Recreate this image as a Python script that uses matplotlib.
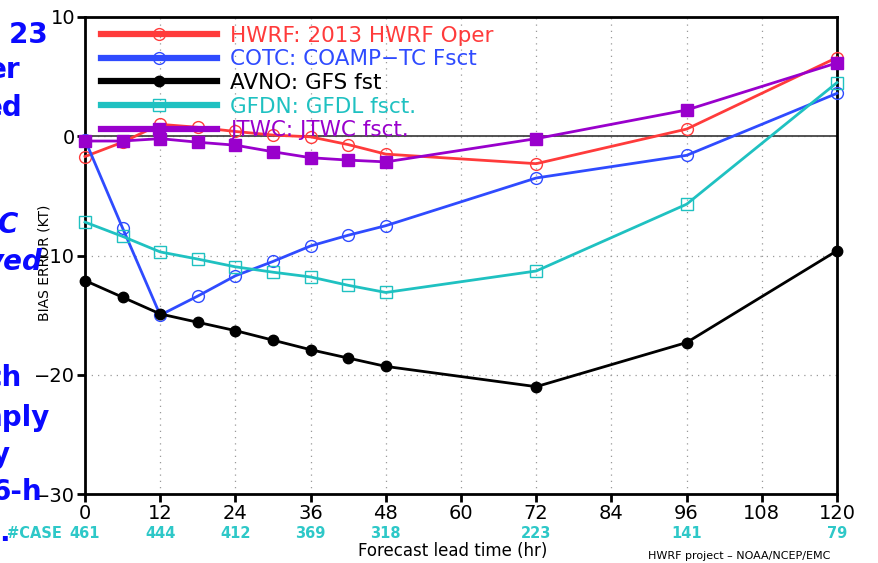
import matplotlib
matplotlib.use("Agg")
import matplotlib.pyplot as plt

# forecast hours and bias errors (kt)
hours = [0, 6, 12, 18, 24, 30, 36, 42, 48, 72, 96, 120]
hwrf = [-1.7, -0.5, 1.0, 0.75, 0.4, 0.1, -0.05, -0.7, -1.5, -2.3, 0.6, 6.6]
cotc = [-0.3, -7.7, -15.0, -13.4, -11.7, -10.5, -9.2, -8.3, -7.5, -3.5, -1.6, 3.6]
avno = [-12.1, -13.5, -14.9, -15.6, -16.3, -17.1, -17.9, -18.6, -19.3, -21.0, -17.3, -9.6]
gfdn = [-7.2, -8.4, -9.7, -10.3, -10.95, -11.4, -11.8, -12.5, -13.1, -11.3, -5.7, 4.5]
jtwc = [-0.4, -0.4, -0.2, -0.5, -0.75, -1.3, -1.8, -2.0, -2.15, -0.2, 2.2, 6.15]

labels = ["HWRF: 2013 HWRF Oper", "COTC: COAMP\u2212TC Fsct", "AVNO: GFS fst",
          "GFDN: GFDL fsct.", "JTWC: JTWC fsct."]

case_hours = [0, 12, 24, 36, 48, 72, 96, 120]
cases = [461, 444, 412, 369, 318, 223, 141, 79]

xticks = list(range(0, 121, 12))
yticks = [-30, -20, -10, 0, 10]

RED, BLUE, BLK, CYAN, PURP = "#ff3b3b", "#2f4bff", "#000000", "#1fc1c1", "#9900cc"
CASEC = "#2ec8c8"
SLIDE = "#0a0aff"

fig = plt.figure(figsize=(8.79, 5.63), dpi=100)
W, H = 879, 563
ax = fig.add_axes([85 / W, 1 - 494 / H, (837 - 85) / W, (494 - 17) / H])

ax.plot(hours, hwrf, color=RED, lw=2, marker="o", ms=8.5, mfc="none", mew=1, label=labels[0], clip_on=False, zorder=3)
ax.plot(hours, cotc, color=BLUE, lw=2, marker="o", ms=8.5, mfc="none", mew=1, label=labels[1], clip_on=False, zorder=3)
ax.plot(hours, avno, color=BLK, lw=2, marker="o", ms=7.5, label=labels[2], clip_on=False, zorder=3)
ax.plot(hours, gfdn, color=CYAN, lw=2, marker="s", ms=8.5, mfc="none", mew=1, label=labels[3], clip_on=False, zorder=3)
ax.plot(hours, jtwc, color=PURP, lw=2, marker="s", ms=8, label=labels[4], clip_on=False, zorder=4)

ax.axhline(0, color="#444444", lw=1.3, zorder=2)

ax.set_xlim(0, 120)
ax.set_ylim(-30, 10)
ax.set_xticks(xticks)
ax.set_yticks(yticks)
ax.set_yticklabels(["\u221230", "\u221220", "\u221210", "0", "10"])
ax.tick_params(labelsize=14, width=2, length=6, direction="out", pad=1)
ax.grid(True, ls=(0, (1, 4)), color="#999999", lw=0.9)
for s in ax.spines.values():
    s.set_linewidth(2)

leg = ax.legend(loc="upper left", bbox_to_anchor=(0.01, 1.0), frameon=False,
                fontsize=15.5, handlelength=5.4, handletextpad=0.6,
                labelspacing=0.17, borderaxespad=0.0)
cols = [RED, BLUE, BLK, CYAN, PURP]
for h, t, c in zip(leg.legend_handles, leg.get_texts(), cols):
    h.set_linewidth(4.5)
    t.set_color(c)

# number of cases under each lead time
fig.text(62 / W, 1 - 533 / H, "#CASE", color=CASEC, fontsize=10.5, fontweight="bold", ha="right", va="center")
for hr, n in zip(case_hours, cases):
    px = 85 + hr * (837 - 85) / 120
    fig.text(px / W, 1 - 533 / H, str(n), color=CASEC, fontsize=10.5, fontweight="bold", ha="center", va="center")

fig.text(453 / W, 1 - 551 / H, "Forecast lead time (hr)", fontsize=12, ha="center", va="center")
fig.text(45 / W, 1 - 263 / H, "BIAS ERROR (KT)", fontsize=10, rotation=90, ha="center", va="center")
fig.text(648 / W, 1 - 556 / H, "HWRF project \u2013 NOAA/NCEP/EMC", fontsize=8, ha="left", va="center")

# pieces of slide text cut off by the left edge
slide = [("~ 23", 48, 35, "normal"), ("er", 20, 70, "normal"), ("ed", 23, 108, "normal"),
         ("C", 18, 225, "italic"), ("ved", 42, 262, "italic"), ("ch", 22, 378, "normal"),
         ("nply", 50, 418, "normal"), ("y", 10, 455, "normal"), ("6-h", 42, 492, "normal"),
         (".", 10, 533, "normal")]
for s, xr, yc, st in slide:
    fig.text(xr / W, 1 - yc / H, s, color=SLIDE, fontsize=20, fontweight="bold",
             style=st, ha="right", va="center", zorder=10)

fig.savefig("out.png", dpi=100)
